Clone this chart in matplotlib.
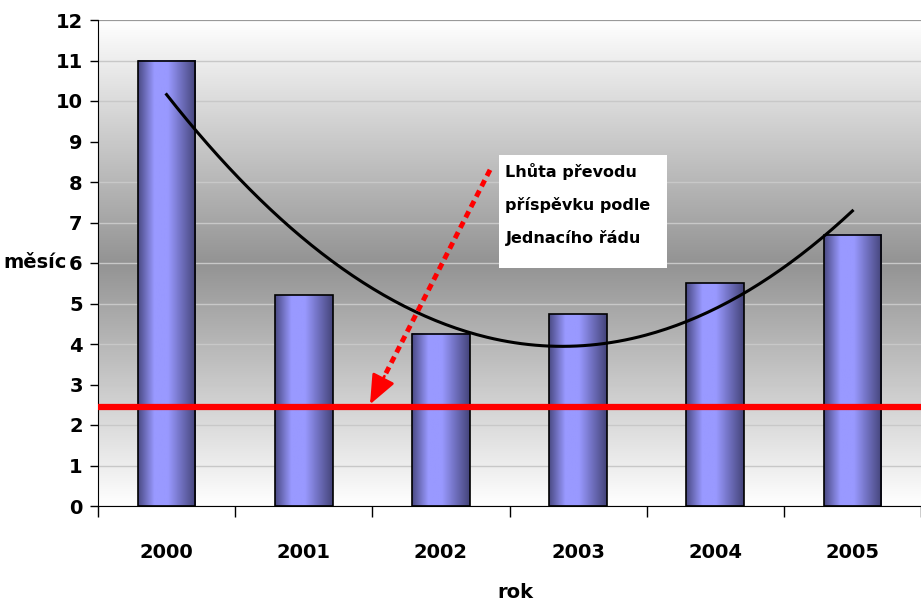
import numpy as np
import matplotlib
matplotlib.use('Agg')
import matplotlib.pyplot as plt
from matplotlib.colors import LinearSegmentedColormap
from matplotlib.patches import Rectangle
from matplotlib import font_manager

# data
years = ['2000', '2001', '2002', '2003', '2004', '2005']
months = [11.0, 5.2, 4.25, 4.74, 5.5, 6.7]
limit = 2.45
note = 'Lhůta převodu\npříspěvku podle\nJednacího řádu'

names = {f.name for f in font_manager.fontManager.ttflist}
fam = [n for n in ['Liberation Sans Narrow', 'DejaVu Sans Condensed'] if n in names]
plt.rcParams['font.family'] = fam + ['DejaVu Sans']
plt.rcParams['font.weight'] = 'bold'
plt.rcParams['axes.labelweight'] = 'bold'

fig = plt.figure(figsize=(9.21, 6.02), dpi=100)
ax = fig.add_axes([98 / 921, 96 / 602, 823 / 921, 486 / 602])

x = np.arange(len(years))

# gray background gradient (white - gray - white)
bg = LinearSegmentedColormap.from_list('bg', ['#ffffff', '#939393', '#ffffff'])
ax.imshow(np.linspace(0, 1, 256).reshape(-1, 1), cmap=bg, aspect='auto',
          extent=[0, 1, 0, 1], transform=ax.transAxes, zorder=0)

ax.set_yticks(range(0, 13))
ax.yaxis.grid(True, color='#c8c8c8', lw=1)
ax.set_axisbelow(True)
ax.axhline(12, color='#909090', lw=1.2, zorder=1)

# bars with horizontal shading
bar_cmap = LinearSegmentedColormap.from_list(
    'bar', [(0, '#4a4a84'), (0.28, '#9999ff'), (0.52, '#9999ff'), (1, '#44447a')])
bars = ax.bar(x, months, width=0.42, facecolor='none', edgecolor='black',
              lw=1.2, zorder=3)
for b in bars:
    x0, y0 = b.get_x(), b.get_y()
    ax.imshow(np.linspace(0, 1, 128).reshape(1, -1), cmap=bar_cmap,
              aspect='auto', extent=[x0, x0 + b.get_width(), y0, y0 + b.get_height()],
              zorder=2)
ax.set_xlim(-0.5, len(years) - 0.5)
ax.set_ylim(0, 12)

# polynomial trend line (order 2)
coef = np.polyfit(x, months, 2)
xs = np.linspace(0, len(years) - 1, 200)
ax.plot(xs, np.polyval(coef, xs), color='black', lw=2.2, zorder=4)

# limit line
ax.axhline(limit, color='#ff0000', lw=4.5, zorder=5)

# note box and dotted arrow
ax.add_patch(Rectangle((2.423, 5.877), 1.225, 2.79, facecolor='white',
                       edgecolor='none', zorder=6))
ax.text(2.47, 8.47, note, fontsize=11.5, fontweight='bold', va='top', ha='left',
        linespacing=2.3, zorder=7)
start = (2.358, 8.3)
tip = (1.483, limit + 0.06)
mid = (tip[0] + (start[0] - tip[0]) * 0.12, tip[1] + (start[1] - tip[1]) * 0.12)
ax.plot([start[0], mid[0]], [start[1], mid[1]], color='#ff0000', lw=3.5,
        linestyle=(0, (1.4, 1.0)), zorder=6)
ax.annotate('', xy=tip, xytext=mid,
            arrowprops=dict(arrowstyle='-|>,head_length=1.8,head_width=0.75',
                            color='#ff0000', lw=2, shrinkA=0, shrinkB=0),
            zorder=6)

# axes styling
for s in ['top', 'right']:
    ax.spines[s].set_visible(False)
ax.spines['left'].set_color('black')
ax.spines['bottom'].set_color('black')
ax.tick_params(axis='y', labelsize=14, length=6, width=1, pad=5)
ax.set_xticks(np.arange(-0.5, len(years), 1.0))
ax.set_xticklabels([])
ax.tick_params(axis='x', which='major', length=8, width=1)
ax.set_xticks(x, minor=True)
ax.set_xticklabels(years, minor=True, fontsize=14)
ax.tick_params(axis='x', which='minor', length=0, pad=27)

ax.set_ylabel('měsíc', fontsize=14, rotation=0, ha='center', va='center')
ax.yaxis.set_label_coords(-0.077, 0.5)
ax.set_xlabel('rok', fontsize=14, va='center')
ax.xaxis.set_label_coords(0.507, -0.177)

fig.savefig('out.png', dpi=100)
